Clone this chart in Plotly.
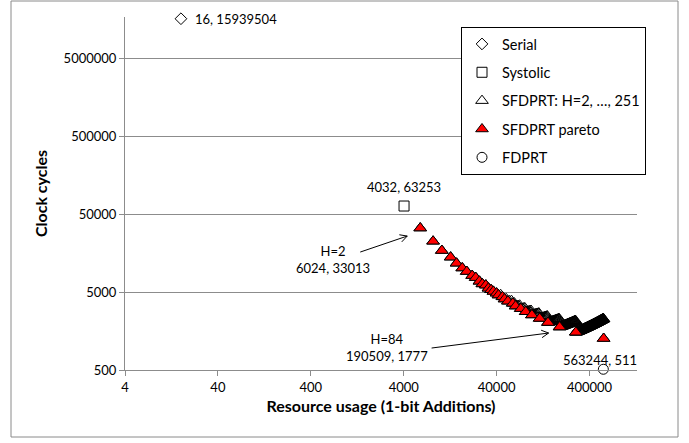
import math
import plotly.graph_objects as go

# ---------------- data ----------------
serial_x = [16]
serial_y = [15939504]

systolic_x = [4032]
systolic_y = [63253]

fdprt_x = [563244]
fdprt_y = [511]

# SFDPRT, H = 2 ... 251 (resource usage in 1-bit additions, clock cycles)
sfdprt_res = [
    6024, 8283, 10291, 12801, 14809, 17068, 19076, 21837, 23845, 26104,
    28112, 30622, 32630, 34889, 36897, 39909, 41917, 44176, 46184, 48694,
    50702, 52961, 54969, 57730, 59738, 61997, 64005, 66515, 68523, 70782,
    72790, 76053, 78061, 80320, 82328, 84838, 86846, 89105, 91113, 93874,
    95882, 98141, 100149, 102659, 104667, 106926, 108934, 111946, 113954, 116213,
    118221, 120731, 122739, 124998, 127006, 129767, 131775, 134034, 136042, 138552,
    140560, 142819, 144827, 148341, 150349, 152608, 154616, 157126, 159134, 161393,
    163401, 166162, 168170, 170429, 172437, 174947, 176955, 179214, 181222, 184234,
    186242, 188501, 190509, 193019, 195027, 197286, 199294, 202055, 204063, 206322,
    208330, 210840, 212848, 215107, 217115, 220378, 222386, 224645, 226653, 229163,
    231171, 233430, 235438, 238199, 240207, 242466, 244474, 246984, 248992, 251251,
    253259, 256271, 258279, 260538, 262546, 265056, 267064, 269323, 271331, 274092,
    276100, 278359, 280367, 282877, 284885, 287144, 289152, 292917, 294925, 297184,
    299192, 301702, 303710, 305969, 307977, 310738, 312746, 315005, 317013, 319523,
    321531, 323790, 325798, 328810, 330818, 333077, 335085, 337595, 339603, 341862,
    343870, 346631, 348639, 350898, 352906, 355416, 357424, 359683, 361691, 364954,
    366962, 369221, 371229, 373739, 375747, 378006, 380014, 382775, 384783, 387042,
    389050, 391560, 393568, 395827, 397835, 400847, 402855, 405114, 407122, 409632,
    411640, 413899, 415907, 418668, 420676, 422935, 424943, 427453, 429461, 431720,
    433728, 437242, 439250, 441509, 443517, 446027, 448035, 450294, 452302, 455063,
    457071, 459330, 461338, 463848, 465856, 468115, 470123, 473135, 475143, 477402,
    479410, 481920, 483928, 486187, 488195, 490956, 492964, 495223, 497231, 499741,
    501749, 504008, 506016, 509279, 511287, 513546, 515554, 518064, 520072, 522331,
    524339, 527100, 529108, 531367, 533375, 535885, 537893, 540152, 542160, 545172,
    547180, 549439, 551447, 553957, 555965, 558224, 560232, 562993, 565001, 567260,
]
sfdprt_cyc = [
    33013, 22346, 17012, 13974, 11679, 10155, 9151, 8124, 7640, 6857,
    6346, 6116, 5584, 5339, 5088, 4832, 4569, 4611, 4339, 4061,
    4097, 3810, 3843, 3876, 3577, 3607, 3299, 3326, 3353, 3380,
    3057, 3082, 3106, 3130, 2792, 2813, 2834, 2855, 2876, 2897,
    2538, 2556, 2574, 2592, 2610, 2628, 2646, 2664, 2682, 2293,
    2308, 2323, 2338, 2353, 2368, 2383, 2398, 2413, 2428, 2443,
    2458, 2030, 2042, 2055, 2067, 2079, 2091, 2103, 2115, 2127,
    2139, 2151, 2163, 2175, 2187, 2199, 2211, 2223, 2235, 2247,
    2259, 2271, 1777, 1786, 1795, 1804, 1813, 1822, 1831, 1840,
    1849, 1858, 1867, 1876, 1885, 1894, 1903, 1912, 1921, 1930,
    1939, 1948, 1957, 1966, 1975, 1984, 1993, 2002, 2011, 2020,
    2029, 2038, 2047, 2056, 2065, 2074, 2083, 2092, 2101, 2110,
    2119, 2128, 2137, 2146, 1523, 1529, 1535, 1542, 1548, 1554,
    1560, 1566, 1572, 1578, 1584, 1590, 1596, 1602, 1608, 1614,
    1620, 1626, 1632, 1638, 1644, 1650, 1656, 1662, 1668, 1674,
    1680, 1686, 1692, 1698, 1704, 1710, 1716, 1722, 1728, 1734,
    1740, 1746, 1752, 1758, 1764, 1770, 1776, 1782, 1788, 1794,
    1800, 1806, 1812, 1818, 1824, 1830, 1836, 1842, 1848, 1854,
    1860, 1866, 1872, 1878, 1884, 1890, 1896, 1902, 1908, 1914,
    1920, 1926, 1932, 1938, 1944, 1950, 1956, 1962, 1968, 1974,
    1980, 1986, 1992, 1998, 2004, 2010, 2016, 2022, 2028, 2034,
    2040, 2046, 2052, 2058, 2064, 2070, 2076, 2082, 2088, 2094,
    2100, 2106, 2112, 2118, 2124, 2130, 2136, 2142, 2148, 2154,
    2160, 2166, 2172, 2178, 2184, 2190, 2196, 2202, 2208, 2214,
    2220, 2226, 2232, 2238, 2244, 2250, 2256, 2262, 2268, 1267,
]

# SFDPRT pareto-optimal points
pareto_res = [
    6024, 8283, 10291, 12801, 14809, 17068, 19076, 21837, 23845, 26104,
    28112, 30622, 32630, 34889, 36897, 39909, 41917, 46184, 48694, 52961,
    59738, 64005, 72790, 82328, 95882, 116213, 142819, 190509, 284885, 567260,
]
pareto_cyc = [
    33013, 22346, 17012, 13974, 11679, 10155, 9151, 8124, 7640, 6857,
    6346, 6116, 5584, 5339, 5088, 4832, 4569, 4339, 4061, 3810,
    3577, 3299, 3057, 2792, 2538, 2293, 2030, 1777, 1523, 1267,
]

# highlighted points (H value, resource, cycles)
callout_H = [2, 84]
callout_res = [6024, 190509]
callout_cyc = [33013, 1777]

x_ticks = [4, 40, 400, 4000, 40000, 400000]
y_ticks = [500, 5000, 50000, 500000, 5000000]

# ---------------- figure ----------------
FONT = "Lato"
GRID = "#8c8c8c"

fig = go.Figure()

fig.add_trace(go.Scatter(
    x=serial_x, y=serial_y, mode="markers", name="Serial",
    legendgroup="a", cliponaxis=False,
    marker=dict(symbol="diamond-open", size=9, color="black", line=dict(width=1)),
))
fig.add_trace(go.Scatter(
    x=systolic_x, y=systolic_y, mode="markers", name="Systolic",
    legendgroup="b", cliponaxis=False,
    marker=dict(symbol="square-open", size=10, color="black", line=dict(width=1)),
))
fig.add_trace(go.Scatter(
    x=sfdprt_res, y=sfdprt_cyc, mode="markers", name="SFDPRT: H=2, …, 251",
    legendgroup="c", cliponaxis=False,
    marker=dict(symbol="triangle-up-open", size=11, color="black", line=dict(width=1)),
))
fig.add_trace(go.Scatter(
    x=pareto_res, y=pareto_cyc, mode="markers", name="SFDPRT pareto",
    legendgroup="d", cliponaxis=False,
    marker=dict(symbol="triangle-up", size=11, color="#ff0000",
                line=dict(width=1, color="black")),
))
fig.add_trace(go.Scatter(
    x=fdprt_x, y=fdprt_y, mode="markers", name="FDPRT",
    legendgroup="e", cliponaxis=False,
    marker=dict(symbol="circle-open", size=10, color="black", line=dict(width=1)),
))

annots = []
lab_font = dict(family=FONT, size=13, color="black")
annots.append(dict(x=math.log10(serial_x[0]), y=math.log10(serial_y[0]),
                   text=f"{serial_x[0]}, {serial_y[0]}", showarrow=False,
                   xanchor="left", xshift=12, font=lab_font))
annots.append(dict(x=math.log10(systolic_x[0]), y=math.log10(systolic_y[0]),
                   text=f"{systolic_x[0]}, {systolic_y[0]}", showarrow=False,
                   yshift=19, font=lab_font))
annots.append(dict(x=math.log10(fdprt_x[0]), y=math.log10(fdprt_y[0]),
                   text=f"{fdprt_x[0]}, {fdprt_y[0]}", showarrow=False,
                   xshift=-3, yshift=9, font=lab_font))

# callout geometry, pixel offsets from the data point (x right, y up)
text_shift = [(-87, -31), (-173, -20)]
arrow_tail = [(-60, -24), (-128, -21)]
arrow_tip = [(-13, -8), (-11, -6)]
HEAD_LEN, HEAD_ANG = 8, math.radians(28)

shapes = []
for i in range(len(callout_H)):
    xl = math.log10(callout_res[i])
    yl = math.log10(callout_cyc[i])
    annots.append(dict(x=xl, y=yl,
                       text=f"H={callout_H[i]}<br>{callout_res[i]}, {callout_cyc[i]}",
                       showarrow=False, xshift=text_shift[i][0], yshift=text_shift[i][1],
                       font=lab_font))
    tx, ty = arrow_tail[i]
    hx, hy = arrow_tip[i]
    dx, dy = hx - tx, hy - ty
    n = math.hypot(dx, dy)
    ux, uy = dx / n, dy / n
    arms = []
    for s in (1, -1):
        c, sn = math.cos(s * HEAD_ANG), math.sin(s * HEAD_ANG)
        rx, ry = c * ux - sn * uy, sn * ux + c * uy
        arms.append((hx - HEAD_LEN * rx, hy - HEAD_LEN * ry))
    path = (f"M{tx},{ty} L{hx},{hy} "
            f"M{arms[0][0]:.2f},{arms[0][1]:.2f} L{hx},{hy} L{arms[1][0]:.2f},{arms[1][1]:.2f}")
    shapes.append(dict(type="path", xref="x", yref="y",
                       xsizemode="pixel", ysizemode="pixel",
                       xanchor=callout_res[i], yanchor=callout_cyc[i], path=path,
                       line=dict(color="black", width=1)))

L, R, T, B = 125, 52, 17, 73
W, Hh = 689, 443
pw, ph = W - L - R, Hh - T - B

shapes.append(dict(type="rect", xref="paper", yref="paper",
                   x0=(11 - L) / pw, x1=(678 - L) / pw,
                   y0=-(437 - (Hh - B)) / ph, y1=(Hh - B - 1) / ph,
                   line=dict(color="#8a8a8a", width=1), fillcolor="rgba(0,0,0,0)",
                   layer="below"))

fig.update_layout(
    width=W, height=Hh,
    margin=dict(l=L, r=R, t=T, b=B, pad=0),
    paper_bgcolor="white", plot_bgcolor="white",
    font=dict(family=FONT, size=13, color="black"),
    showlegend=True,
    legend=dict(
        x=(461 - L) / pw, y=(Hh - B - 27) / ph, xanchor="left", yanchor="top",
        bordercolor="black", borderwidth=1, bgcolor="white",
        font=dict(family=FONT, size=14.5, color="black"),
        tracegroupgap=6.5, itemwidth=30,
    ),
    annotations=annots,
    shapes=shapes,
)

fig.update_xaxes(
    type="log", range=[math.log10(4), 6.113],
    tickvals=x_ticks, ticktext=[str(v) for v in x_ticks],
    showgrid=False, zeroline=False,
    showline=True, linecolor=GRID, linewidth=1,
    ticks="outside", ticklen=5, tickcolor=GRID,
    tickfont=dict(family=FONT, size=13, color="black"),
    title=dict(text="<b>Resource usage (1-bit Additions)</b>",
               font=dict(family=FONT, size=16, color="black"), standoff=7),
)
fig.update_yaxes(
    type="log", range=[math.log10(500), 7.2246],
    tickvals=y_ticks, ticktext=[str(v) for v in y_ticks],
    showgrid=True, gridcolor=GRID, gridwidth=1, zeroline=False,
    showline=True, linecolor=GRID, linewidth=1,
    ticks="outside", ticklen=5, tickcolor=GRID,
    tickfont=dict(family=FONT, size=13, color="black"),
    title=dict(text="<b>Clock cycles</b>",
               font=dict(family=FONT, size=16, color="black"), standoff=12),
)

fig.write_html("out.html")
